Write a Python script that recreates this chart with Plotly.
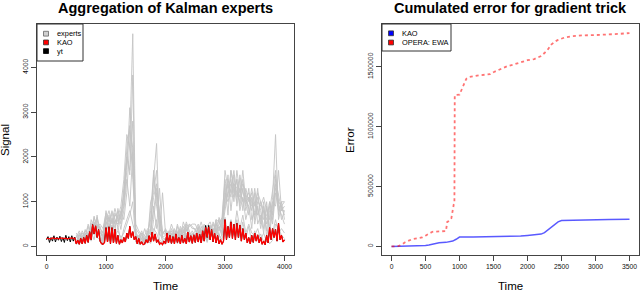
import plotly.graph_objects as go

W, H = 640, 291

# ---------------- Left panel data ----------------
T_FINE = list(range(0, 4001, 25))
KAO = [180,175,185,170,190,180,175,185,170,180,190,175,180,185,170,180,175,190,180,185,
       60,140,50,180,60,200,70,250,90,330,150,490,280,460,200,380,120,60,50,90,
       420,100,440,60,420,80,390,70,250,50,150,80,200,100,300,180,450,200,330,150,
       220,60,180,50,100,40,60,150,80,240,100,320,120,280,90,150,50,80,40,120,
       60,300,80,250,70,220,60,280,90,200,60,250,80,180,60,320,100,240,70,260,
       90,300,100,270,80,350,120,430,200,440,150,380,100,300,80,250,60,150,50,120,
       600,150,450,200,550,180,500,150,520,200,480,120,400,150,300,80,200,60,250,90,
       300,120,260,80,200,50,120,40,250,80,420,150,400,200,380,120,520,150,250,100,
       150]
YT = [150,220,90,200,120,240,100,210,140,230,110,200,90,250,130,220,100,240,120,210,
      60,140,50,180,60,200,70,250,90,330,150,490,280,460,200,380,120,60,50,90,
      420,100,440,60,420,80,390,70,250,50,150,80,200,100,300,180,450,200,330,150,
      220,60,180,50,100,40,60,150,80,240,100,320,120,280,90,150,50,80,40,120,
      60,300,80,250,70,220,60,280,90,200,60,250,80,180,60,320,100,240,70,260,
      90,300,100,270,80,350,120,470,200,470,150,380,100,300,80,250,60,150,50,120,
      600,150,450,200,550,180,500,150,520,200,480,120,400,150,300,80,200,60,250,90,
      300,120,260,80,200,50,120,40,250,80,420,150,400,200,380,120,520,150,250,100,
      150]

T_EXP = list(range(500, 4001, 50))
EXPERTS = [
    [90,260,120,380,200,520,300,610,250,120,
     560,300,640,420,700,380,820,1500,900,2100,
     300,180,240,120,350,260,900,400,1300,200,
     150,320,180,400,220,380,160,450,240,350,
     200,420,260,380,300,480,280,520,340,600,
     900,1400,1100,1600,900,1300,1000,1200,700,1100,
     500,900,400,800,350,1000,600,1400,900,700, 500],
    [60,180,80,300,140,450,260,700,200,80,
     300,700,250,600,450,800,600,1200,2400,4750,
     200,90,300,60,200,400,1500,2300,300,150,
     80,250,100,300,150,350,120,400,180,300,
     120,350,200,300,150,420,250,600,200,500,
     1400,700,1700,1200,1500,800,1100,600,900,400,
     1200,500,700,300,900,400,1100,2500,600,900, 700],
    [150,90,250,150,350,280,680,300,450,200,
     800,450,600,300,850,500,1000,1700,3100,2000,
     150,250,100,180,80,300,1700,900,500,100,
     200,100,280,130,320,90,380,200,300,120,
     300,150,380,200,250,350,180,450,600,300,
     1000,1600,800,1400,1200,1000,1500,900,1300,600,
     800,1300,500,1000,200,700,1000,900,1700,800, 900],
    [80,300,100,250,450,150,550,250,350,150,
     500,650,350,750,550,700,900,2000,1600,3830,
     100,200,350,150,250,100,600,1200,800,350,
     250,150,350,200,450,150,300,500,200,250,
     350,250,300,450,200,380,500,300,450,250,
     1200,1000,1300,1700,1100,1500,800,1300,1000,1200,
     600,1100,800,400,1000,300,800,1600,1000,600, 800],
    [40,120,60,200,100,330,150,500,200,60,
     450,120,480,100,460,90,400,600,800,500,
     250,50,200,40,120,70,300,600,150,80,
     50,280,70,250,60,230,80,300,90,220,
     90,330,100,300,90,380,150,450,100,280,
     650,200,500,250,600,200,550,180,450,100,
     350,130,280,90,220,60,140,500,420,250, 180],
    [100,200,300,150,250,400,350,450,300,250,
     600,800,500,700,650,900,1500,2500,2200,1800,
     350,150,80,250,150,1000,1200,1700,250,1200,
     300,180,400,250,200,450,300,550,350,150,
     250,450,150,350,250,300,400,250,650,450,
     1700,1300,1500,1000,1700,1200,1400,1100,1200,900,
     1000,700,1000,600,700,900,500,1200,800,1000, 600],
    [200,350,180,280,120,600,400,300,200,350,
     700,550,800,600,500,750,1100,2200,2700,1500,
     400,300,150,400,200,800,1600,1100,400,300,
     350,200,300,150,500,250,450,180,500,400,
     400,200,450,250,400,200,550,350,500,650,
     1500,1100,1700,1300,1000,1600,1200,1000,1100,800,
     1300,800,600,900,500,800,1200,1700,700,1000, 1000],
    [120,60,170,80,280,120,400,200,150,50,
     350,200,400,250,350,200,300,500,700,1000,
     100,150,60,200,100,150,400,300,100,50,
     100,200,60,220,100,280,60,250,100,200,
     150,280,80,250,120,300,200,380,250,150,
     500,350,600,300,800,400,700,300,500,300,
     250,400,150,300,100,250,300,600,300,400, 300],
    [250,100,350,200,500,250,450,650,400,300,
     650,400,750,500,800,600,1300,1900,2600,2200,
     500,350,250,100,300,600,1100,1400,700,250,
     400,250,500,300,350,200,550,350,450,500,
     500,350,550,300,450,550,350,500,400,550,
     1100,1500,1200,1400,1300,1100,1700,1000,900,1300,
     900,1200,1000,800,600,1000,700,1500,1100,800, 800],
    [300,150,200,350,250,300,650,450,500,400,
     750,600,550,850,600,650,1200,2000,1700,2800,
     250,200,300,250,400,350,800,1300,600,200,
     250,350,200,350,300,400,250,350,500,450,
     350,500,300,500,350,450,300,600,550,400,
     800,1200,1400,1100,1500,900,1300,800,1100,1000,
     700,1000,900,1100,800,600,900,1300,1000,900, 1000],
]

# ---------------- Right panel data ----------------
KAO_T = [0, 100, 200, 300, 400, 500, 550, 600, 650, 700, 800, 850, 900, 950, 1000,
         1200, 1500, 1800, 1900, 2000, 2100, 2200, 2250, 2300, 2350, 2400, 2450, 2500,
         2600, 2800, 3000, 3200, 3500]
KAO_ERR = [0, 1000, 2000, 3000, 5000, 8000, 12000, 18000, 28000, 30000, 34000, 38000,
           45000, 60000, 78000, 79000, 81000, 84000, 87000, 92000, 97000, 103000, 115000,
           138000, 165000, 190000, 205000, 216000, 218000, 220000, 222000, 224000, 228000]
EWA_T = [0, 100, 150, 200, 300, 400, 450, 500, 550, 600, 700, 800, 820, 850, 880, 900,
         915, 925, 930, 1000, 1050, 1100, 1150, 1300, 1450, 1500, 1600, 1700, 1800, 1900,
         2000, 2100, 2200, 2250, 2300, 2350, 2400, 2450, 2550, 2650, 2800, 3000, 3200,
         3350, 3500]
EWA_ERR = [0, 3000, 15000, 35000, 60000, 70000, 75000, 90000, 105000, 122000, 126000,
           128000, 205000, 215000, 235000, 330000, 350000, 365000, 1264000, 1268000,
           1330000, 1400000, 1415000, 1430000, 1438000, 1455000, 1480000, 1505000,
           1520000, 1540000, 1555000, 1565000, 1590000, 1615000, 1645000, 1685000,
           1710000, 1725000, 1745000, 1755000, 1762000, 1765000, 1768000, 1775000, 1782000]

LEFT_TITLE = "Aggregation of Kalman experts"
RIGHT_TITLE = "Cumulated error for gradient trick"
LEFT_LEGEND = ["experts", "KAO", "yt"]
RIGHT_LEGEND = ["KAO", "OPERA: EWA"]

FONT = "Liberation Sans, Arial, Helvetica, sans-serif"


def px(x):
    return x / W


def py(y):
    return 1 - y / H


fig = go.Figure()
for e in EXPERTS:
    fig.add_trace(go.Scatter(x=T_EXP, y=e, mode="lines", line=dict(color="#C4C4C4", width=0.9),
                             xaxis="x", yaxis="y", showlegend=False, hoverinfo="skip"))
fig.add_trace(go.Scatter(x=T_FINE, y=YT, mode="lines", line=dict(color="black", width=1),
                         xaxis="x", yaxis="y", showlegend=False))
fig.add_trace(go.Scatter(x=T_FINE, y=KAO, mode="lines", line=dict(color="#FF0000", width=1.3),
                         xaxis="x", yaxis="y", showlegend=False))

fig.add_trace(go.Scatter(x=KAO_T, y=KAO_ERR, mode="lines",
                         line=dict(color="rgba(0,0,255,0.65)", width=1.5),
                         xaxis="x2", yaxis="y2", showlegend=False))
fig.add_trace(go.Scatter(x=EWA_T, y=EWA_ERR, mode="lines",
                         line=dict(color="rgba(255,0,0,0.55)", width=1.8, dash="dot"),
                         xaxis="x2", yaxis="y2", showlegend=False))

ydom = [py(255), py(24)]
axcommon = dict(showgrid=False, zeroline=False, showline=True, mirror=True,
                linecolor="#444", linewidth=1, ticks="outside", ticklen=5,
                tickcolor="#444", tickfont=dict(family=FONT, size=6.8, color="#111"),
                automargin=False)

fig.update_layout(
    width=W, height=H, margin=dict(l=0, r=0, t=0, b=0),
    paper_bgcolor="white", plot_bgcolor="white",
    xaxis=dict(domain=[px(37), px(294)], range=[-160, 4160],
               tickvals=[0, 1000, 2000, 3000, 4000], anchor="y", **axcommon),
    yaxis=dict(domain=ydom, range=[-190, 4968], tickvals=[0, 1000, 2000, 3000, 4000],
               tickangle=-90, anchor="x", **axcommon),
    xaxis2=dict(domain=[px(382), px(639)], range=[-140, 3640],
                tickvals=[0, 500, 1000, 1500, 2000, 2500, 3000, 3500], anchor="y2", **axcommon),
    yaxis2=dict(domain=ydom, range=[-71440, 1857440],
                tickvals=[0, 500000, 1000000, 1500000], tickformat="d",
                tickangle=-90, anchor="x2", **axcommon),
)

ann = []
ann.append(dict(text="<b>%s</b>" % LEFT_TITLE, x=px(165), y=py(7.5), xref="paper", yref="paper",
                showarrow=False, font=dict(family=FONT, size=14.5, color="black"),
                xanchor="center", yanchor="middle"))
ann.append(dict(text="<b>%s</b>" % RIGHT_TITLE, x=px(510), y=py(7.5), xref="paper", yref="paper",
                showarrow=False, font=dict(family=FONT, size=14.5, color="black"),
                xanchor="center", yanchor="middle"))
for cx in (165, 510):
    ann.append(dict(text="Time", x=px(cx), y=py(285.5), xref="paper", yref="paper",
                    showarrow=False, font=dict(family=FONT, size=11.5, color="black"),
                    xanchor="center", yanchor="middle"))
ann.append(dict(text="Signal", x=px(5), y=py(140), xref="paper", yref="paper", textangle=-90,
                showarrow=False, font=dict(family=FONT, size=11.5, color="black"),
                xanchor="center", yanchor="middle"))
ann.append(dict(text="Error", x=px(350), y=py(140), xref="paper", yref="paper", textangle=-90,
                showarrow=False, font=dict(family=FONT, size=11.5, color="black"),
                xanchor="center", yanchor="middle"))

shapes = []
# left legend
shapes.append(dict(type="rect", xref="paper", yref="paper", x0=px(37), x1=px(83), y0=py(61), y1=py(24),
                   line=dict(color="#333", width=1), fillcolor="white"))
left_cols = [("#D0D0D0", "#666"), ("#FF0000", "#333"), ("#000000", "#000")]
for i, (lab, (fc, lc)) in enumerate(zip(LEFT_LEGEND, left_cols)):
    cy = 33.7 + i * 8.7
    shapes.append(dict(type="rect", xref="paper", yref="paper", x0=px(43.5), x1=px(48.5),
                       y0=py(cy + 2.4), y1=py(cy - 2.4), line=dict(color=lc, width=0.8), fillcolor=fc))
    ann.append(dict(text=lab, x=px(54.5), y=py(cy), xref="paper", yref="paper", showarrow=False,
                    font=dict(family=FONT, size=7.4, color="black"), xanchor="left", yanchor="middle"))
# right legend
shapes.append(dict(type="rect", xref="paper", yref="paper", x0=px(382), x1=px(451), y0=py(51), y1=py(24),
                   line=dict(color="#333", width=1), fillcolor="white"))
right_cols = [("#0000FF", "#333"), ("#FF0000", "#333")]
for i, (lab, (fc, lc)) in enumerate(zip(RIGHT_LEGEND, right_cols)):
    cy = 33.3 + i * 9.2
    shapes.append(dict(type="rect", xref="paper", yref="paper", x0=px(388.5), x1=px(393.5),
                       y0=py(cy + 2.4), y1=py(cy - 2.4), line=dict(color=lc, width=0.8), fillcolor=fc))
    ann.append(dict(text=lab, x=px(399.5), y=py(cy), xref="paper", yref="paper", showarrow=False,
                    font=dict(family=FONT, size=7.4, color="black"), xanchor="left", yanchor="middle"))

fig.update_layout(annotations=ann, shapes=shapes)
fig.write_html("out.html", config={"displayModeBar": False},
               post_script="document.body.style.margin='0';document.body.style.overflow='hidden';")
